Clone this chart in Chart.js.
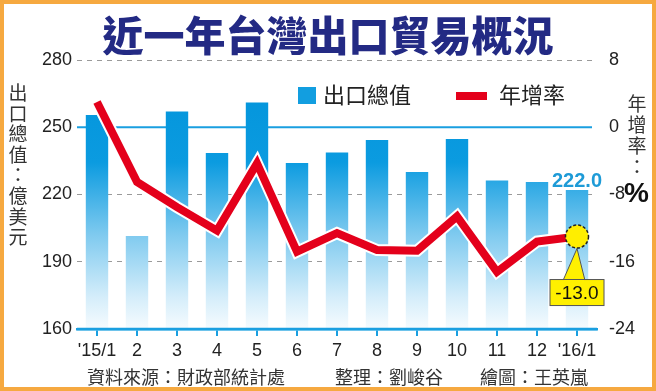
<!DOCTYPE html>
<html>
<head>
<meta charset="utf-8">
<script src="https://cdn.jsdelivr.net/npm/chart.js@4.4.1/dist/chart.umd.min.js"></script>
<style>
  body { margin: 0; background: #fff; }
  #wrap { position: relative; width: 656px; height: 391px; overflow: hidden; font-family: "Noto Sans CJK TC", "Noto Sans", sans-serif; }
  #chart { position: absolute; left: 0; top: 0; }
  #frame { position: absolute; left: 0; top: 0; width: 648px; height: 383px; border: 4px solid #f6a940; pointer-events: none; }
  #title { position: absolute; left: 0; width: 656px; top: 8px; text-align: center; font-size: 41px; font-weight: 900; color: #232a84; line-height: 50px; }
  .vtitle { position: absolute; text-align: center; color: #333; font-size: 19px; line-height: 20.6px; width: 22px; }
  #leftTitle { left: 7px; top: 82px; }
  #rightTitle { left: 626px; top: 92px; line-height: 21px; }
  #rightTitle b { font-size: 28px; font-family: "Liberation Sans", Arial, sans-serif; font-weight: bold; color: #111; display: block; margin-top: 6px; margin-left: -2px; }
  #legend { position: absolute; top: 79px; left: 298px; font-size: 22px; color: #222; line-height: 28px; white-space: nowrap; }
  #legend span.box { display: inline-block; vertical-align: middle; }
  .foot { position: absolute; top: 364px; font-size: 18px; color: #333; line-height: 24px; white-space: nowrap; }
</style>
</head>
<body>
<div id="wrap">
  <canvas id="chart" width="656" height="391"></canvas>
  <div id="title">近一年台灣出口貿易概況</div>
  <div class="vtitle" id="leftTitle">出<br>口<br>總<br>值<br>：<br>億<br>美<br>元</div>
  <div class="vtitle" id="rightTitle">年<br>增<br>率<br>：<b>%</b></div>
  <div id="legend">
    <span class="box" style="width:18px;height:17px;background:#129ee0;margin-right:7px;margin-top:-4px"></span>出口總值<span class="box" style="width:31px;height:8px;background:#e4001b;margin-left:45px;margin-right:12px;margin-top:-3px"></span>年增率
  </div>
  <div class="foot" style="left:87px">資料來源：財政部統計處</div>
  <div class="foot" style="left:335px">整理：劉峻谷</div>
  <div class="foot" style="left:480px">繪圖：王英嵐</div>
  <div id="frame"></div>
</div>
<script>
const months = ["'15/1", "2", "3", "4", "5", "6", "7", "8", "9", "10", "11", "12", "'16/1"];
const exportTotal = [255.5, 201.5, 257.0, 238.5, 261.0, 234.0, 238.7, 244.3, 230.0, 244.8, 226.2, 225.6, 222.0];
const yoyGrowth = [3.0, -6.5, -9.5, -12.3, -4.3, -14.8, -12.6, -14.6, -14.7, -10.6, -17.2, -13.6, -13.0];
const leftTicks = [160, 190, 220, 250, 280];
const rightTicks = [-24, -16, -8, 0, 8];

const BLUE = "#1a9fe0";
const numFont = { family: "'Liberation Sans', Arial, sans-serif", size: 18 };

function barGradient(context) {
  const area = context.chart.chartArea;
  if (!area) return BLUE;
  const g = context.chart.ctx.createLinearGradient(0, area.top, 0, area.bottom);
  g.addColorStop(0, "#0093da");
  g.addColorStop(0.38, "#0b9be0");
  g.addColorStop(0.65, "#7fcaef");
  g.addColorStop(0.88, "#d4edfa");
  g.addColorStop(1, "#f6fbfe");
  return g;
}

// blue zero line, axis line over bars, last-value labels and yellow callout
const extras = {
  id: "extras",
  beforeDatasetsDraw(chart) {
    const { ctx, chartArea, scales } = chart;
    const y = scales.y.getPixelForValue(250);
    ctx.save();
    ctx.strokeStyle = BLUE;
    ctx.lineWidth = 2;
    ctx.beginPath();
    ctx.moveTo(chartArea.left, y);
    ctx.lineTo(chartArea.right - 5, y);
    ctx.stroke();
    ctx.restore();
  },
  afterDatasetsDraw(chart) {
    const { ctx, chartArea } = chart;
    const last = months.length - 1;
    const bar = chart.getDatasetMeta(2).data[last];
    const pt = chart.getDatasetMeta(0).data[last];
    ctx.save();
    ctx.strokeStyle = BLUE;
    ctx.lineWidth = 2.5;
    ctx.beginPath();
    ctx.moveTo(chartArea.left, chartArea.bottom);
    ctx.lineTo(chartArea.right, chartArea.bottom);
    ctx.stroke();

    ctx.font = "bold 20px 'Liberation Sans', Arial, sans-serif";
    ctx.fillStyle = "#1e9bd7";
    ctx.textAlign = "center";
    ctx.textBaseline = "alphabetic";
    ctx.fillText(exportTotal[last].toFixed(1), bar.x, bar.y - 3);

    // callout pointer
    ctx.fillStyle = "#fff000";
    ctx.strokeStyle = "#555";
    ctx.lineWidth = 1;
    ctx.beginPath();
    ctx.moveTo(pt.x, pt.y + 12);
    ctx.lineTo(pt.x - 14, pt.y + 44);
    ctx.lineTo(pt.x + 8, pt.y + 44);
    ctx.closePath();
    ctx.fill();
    ctx.stroke();
    // box
    ctx.fillRect(pt.x - 27, pt.y + 43, 54, 26);
    ctx.strokeRect(pt.x - 27, pt.y + 43, 54, 26);
    ctx.beginPath();
    ctx.moveTo(pt.x - 13, pt.y + 44);
    ctx.lineTo(pt.x + 7, pt.y + 44);
    ctx.strokeStyle = "#fff000";
    ctx.stroke();
    ctx.fillStyle = "#111";
    ctx.font = "19px 'Liberation Sans', Arial, sans-serif";
    ctx.textBaseline = "middle";
    ctx.fillText(yoyGrowth[last].toFixed(1), pt.x, pt.y + 57);

    // marker circle
    ctx.beginPath();
    ctx.arc(pt.x, pt.y, 11.5, 0, Math.PI * 2);
    ctx.fillStyle = "#ffee00";
    ctx.fill();
    ctx.setLineDash([3, 2]);
    ctx.strokeStyle = "#222";
    ctx.lineWidth = 1.5;
    ctx.stroke();
    ctx.restore();
  }
};

new Chart(document.getElementById("chart"), {
  type: "bar",
  data: {
    labels: months,
    datasets: [
      {
        type: "line",
        label: "年增率",
        data: yoyGrowth,
        yAxisID: "y1",
        borderColor: "#e4001b",
        borderWidth: 8,
        borderJoinStyle: "miter",
        pointRadius: 0,
        tension: 0,
        order: 0
      },
      {
        type: "line",
        label: "halo",
        data: yoyGrowth,
        yAxisID: "y1",
        borderColor: "#ffffff",
        borderWidth: 12,
        borderJoinStyle: "miter",
        pointRadius: 0,
        tension: 0,
        order: 1
      },
      {
        label: "出口總值",
        data: exportTotal,
        yAxisID: "y",
        backgroundColor: barGradient,
        barPercentage: 0.56,
        categoryPercentage: 1,
        order: 2
      }
    ]
  },
  options: {
    responsive: false,
    animation: false,
    layout: { padding: { top: 60, left: 0, right: 0, bottom: 0 } },
    plugins: { legend: { display: false }, tooltip: { enabled: false } },
    scales: {
      x: {
        offset: true,
        grid: { offset: false, drawOnChartArea: false, color: BLUE, lineWidth: 2, tickLength: 7 },
        border: { color: BLUE, width: 2.5 },
        ticks: { color: "#222", font: numFont, padding: 4, maxRotation: 0, autoSkip: false },
        afterFit(scale) { scale.height = 62; }
      },
      y: {
        position: "left",
        min: 160,
        max: 280,
        afterBuildTicks(scale) { scale.ticks = leftTicks.map(v => ({ value: v })); },
        grid: {
          drawTicks: false,
          color: ctx => (ctx.tick && (ctx.tick.value === 250 || ctx.tick.value === 160)) ? "transparent" : "#9a9a9a",
          lineWidth: 1
        },
        border: { display: false, dash: [5, 5] },
        ticks: { color: "#222", font: numFont, padding: 5 },
        afterFit(scale) { scale.width = 77; }
      },
      y1: {
        position: "right",
        min: -24,
        max: 8,
        afterBuildTicks(scale) { scale.ticks = rightTicks.map(v => ({ value: v })); },
        grid: { display: false },
        border: { display: false },
        ticks: { color: "#222", font: numFont, padding: 4 },
        afterFit(scale) { scale.width = 59; }
      }
    }
  },
  plugins: [extras]
});
</script>
</body>
</html>
